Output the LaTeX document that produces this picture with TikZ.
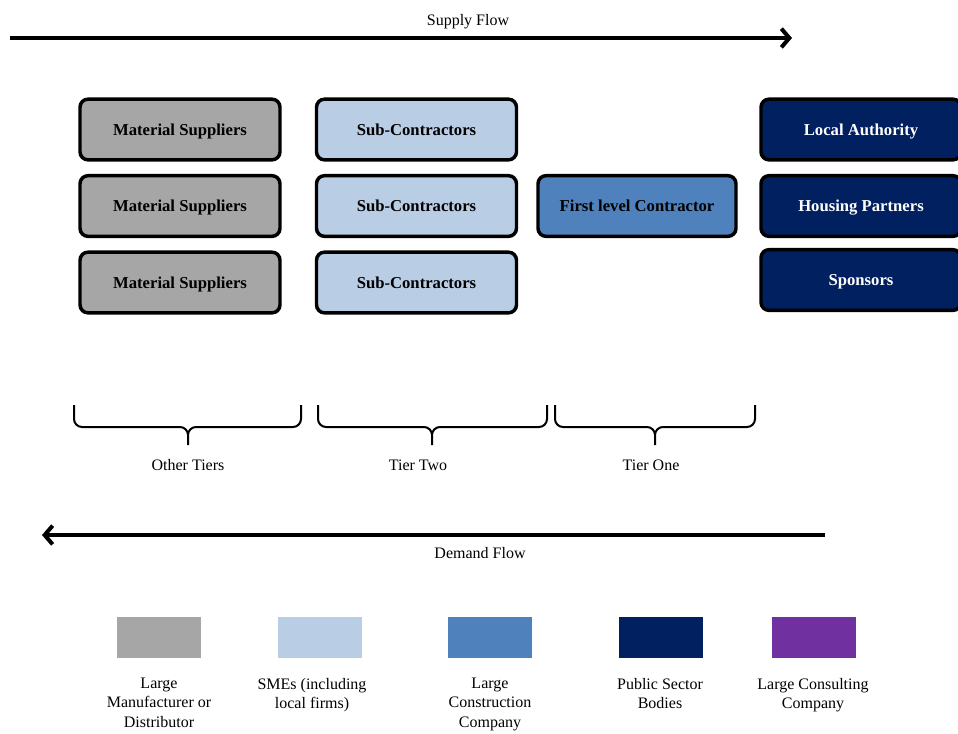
\documentclass[tikz,border=0pt]{standalone}
\usepackage{fontspec}
\setmainfont{Liberation Serif}
\usetikzlibrary{arrows.meta}

\definecolor{mfgrey}{HTML}{A6A6A6}
\definecolor{smeblue}{HTML}{B9CDE5}
\definecolor{contractorblue}{HTML}{4F81BD}
\definecolor{publicnavy}{HTML}{002060}
\definecolor{consultpurple}{HTML}{7030A0}

\tikzset{
    firm/.style={draw=black, line width=2.6pt, rounded corners=6pt,
                 minimum width=150pt, minimum height=45.5pt, inner sep=0pt,
                 text depth=0pt,
                 font=\fontsize{12.5}{14}\selectfont\bfseries},
    flowarrow/.style={line width=3pt, -{Straight Barb[length=6pt,width=14pt]}},
    flowtext/.style={font=\fontsize{12}{14}\selectfont, inner sep=0pt},
    tierbrace/.style={line width=1.5pt, rounded corners=6pt},
    keybox/.style={minimum width=63pt, minimum height=31pt, inner sep=0pt},
    keytext/.style={font=\fontsize{12}{14.4}\selectfont, align=center,
                    anchor=north, inner sep=0pt}
}

\begin{document}
\begin{tikzpicture}[x=0.75pt, y=-0.75pt]
    \useasboundingbox (0,0) rectangle (958,733);

    % supply flow
    \coordinate (supplyL) at (10,38);
    \coordinate (supplyR) at (792,38);
    \draw[flowarrow] (supplyL) -- (supplyR);
    \node[flowtext] (supplytext) at (468,22) {Supply Flow};

    % other tiers
    \node[firm, fill=mfgrey] (mat1) at (180,129.5) {Material Suppliers};
    \node[firm, fill=mfgrey] (mat2) at (180,206)   {Material Suppliers};
    \node[firm, fill=mfgrey] (mat3) at (180,282.5) {Material Suppliers};

    % tier two
    \node[firm, fill=smeblue] (sub1) at (416.5,129.5) {Sub-Contractors};
    \node[firm, fill=smeblue] (sub2) at (416.5,206)   {Sub-Contractors};
    \node[firm, fill=smeblue] (sub3) at (416.5,282.5) {Sub-Contractors};

    % tier one
    \node[firm, fill=contractorblue, minimum width=148.5pt] (first) at (637,206)
        {First level Contractor};

    % client side
    \node[firm, fill=publicnavy, text=white] (local)   at (861,129.5) {Local Authority};
    \node[firm, fill=publicnavy, text=white] (housing) at (861,206)   {Housing Partners};
    \node[firm, fill=publicnavy, text=white] (sponsor) at (861,280)   {Sponsors};

    % tier braces
    \foreach \a/\b/\m/\t/\name/\txt in {74/301/188/188/other/Other Tiers,
                                        318/547/432/418/two/Tier Two,
                                        555/755/655/651/one/Tier One}{
        \draw[tierbrace] (\a,405) |- (\m,427) -- (\m,445)
                         (\m,445) -- (\m,427) -| (\b,405);
        \node[flowtext] (\name) at (\t,465) {\txt};
    }

    % demand flow
    \coordinate (demandR) at (825,535);
    \coordinate (demandL) at (42,535);
    \draw[flowarrow] (demandR) -- (demandL);
    \node[flowtext] (demandtext) at (480,553) {Demand Flow};

    % legend
    \foreach \c/\x/\t/\name/\txt in {mfgrey/159/159/keymf/{Large\\Manufacturer or\\Distributor},
                                     smeblue/320/312/keysme/{SMEs (including\\local firms)},
                                     contractorblue/490/490/keylc/{Large\\Construction\\Company},
                                     publicnavy/661/660/keyps/{Public Sector\\Bodies},
                                     consultpurple/813.5/813/keycons/{Large Consulting\\Company}}{
        \node[keybox, fill=\c] (\name) at (\x,637.5) {};
        \node[keytext] (\name text) at (\t,678) {\txt};
    }
\end{tikzpicture}
\end{document}
